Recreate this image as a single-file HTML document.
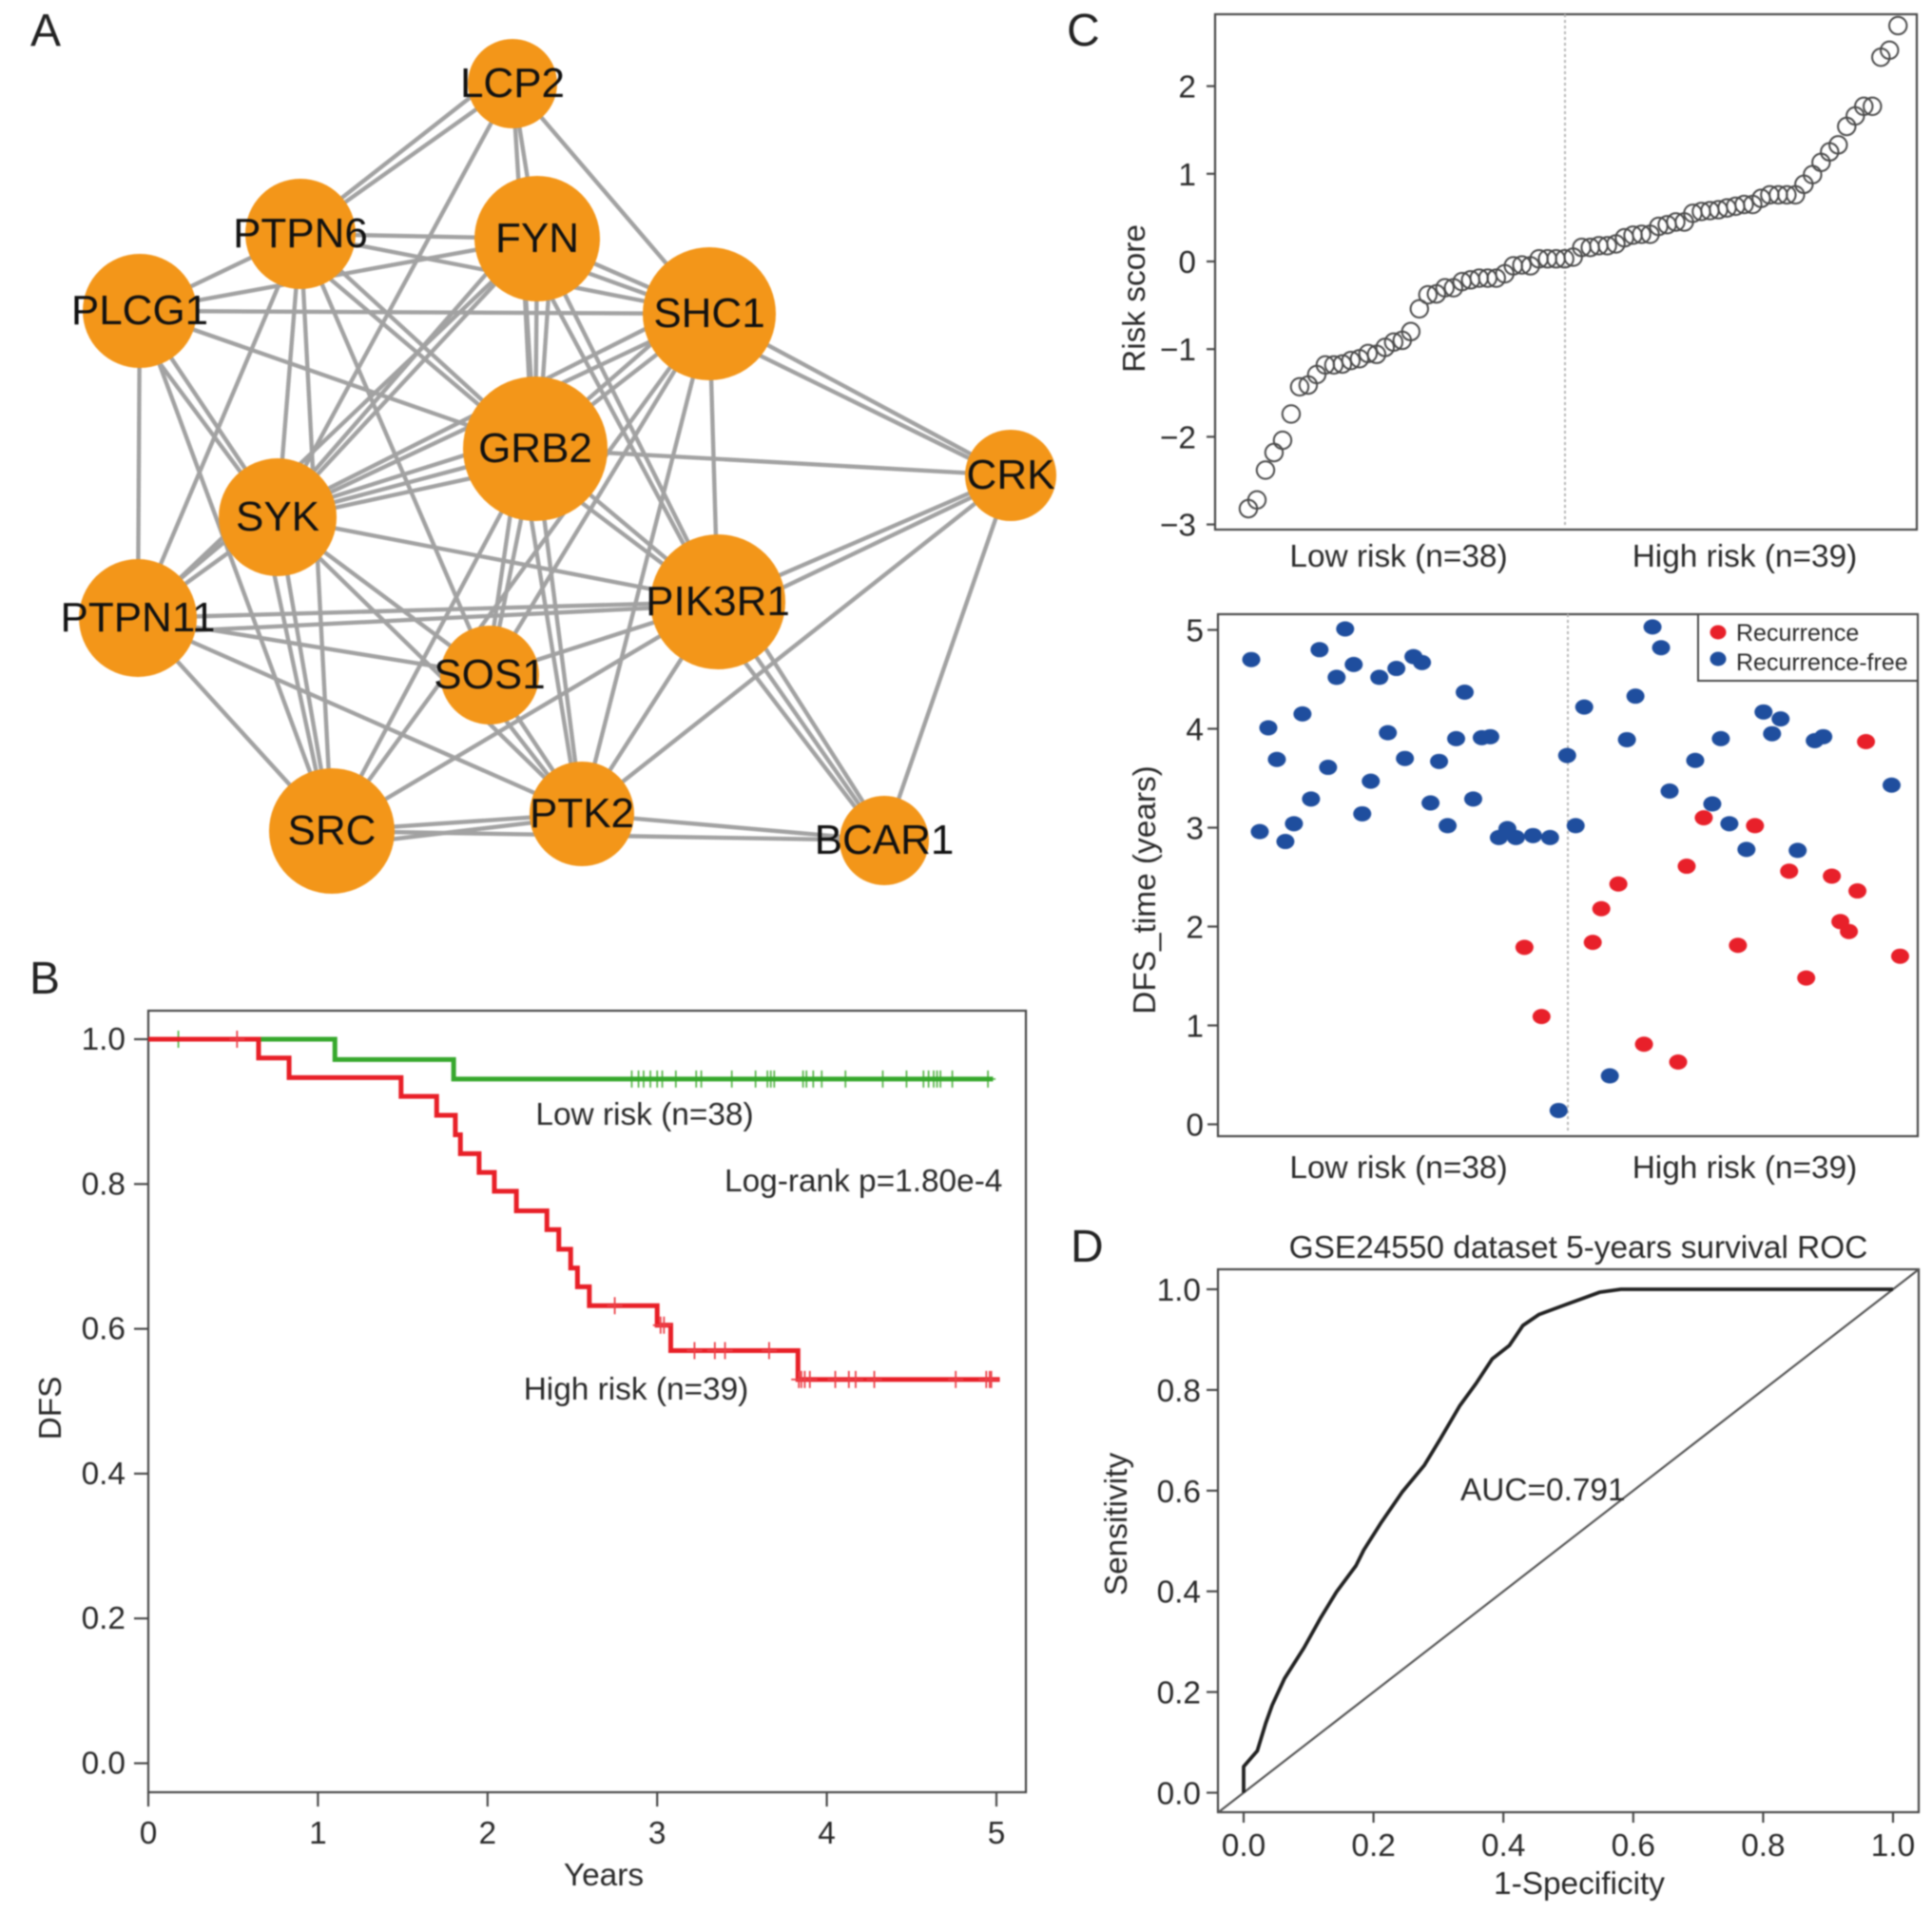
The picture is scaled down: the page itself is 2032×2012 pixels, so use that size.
<!DOCTYPE html>
<html lang="en">
<head>
<meta charset="utf-8">
<title>Four panel risk model figure</title>
<style>
html,body{margin:0;padding:0;background:#fff;}
body{width:2032px;height:2012px;overflow:hidden;}
svg{display:block;filter:blur(0.75px);}
text{font-family:"Liberation Sans",sans-serif;font-size:33.4px;fill:#2a2a2a;}
.panel{font-size:48px;fill:#222;}
.frame{fill:none;stroke:#484848;stroke-width:2.2;}
.node-label{font-size:44px;fill:#111;text-anchor:middle;}
.mid{text-anchor:middle;}
.legend-text{font-size:25px;}
</style>
</head>
<body>
<svg id="fig" xmlns="http://www.w3.org/2000/svg" width="2032" height="2012" viewBox="0 0 2032 2012">
  <rect x="0" y="0" width="2032" height="2012" fill="#fff"/>

  <text class="panel" x="32" y="48">A</text>
  <text class="panel" x="31" y="1045">B</text>
  <text class="panel" x="1122" y="48">C</text>
  <text class="panel" x="1126" y="1327">D</text>

  <g id="network">
    <g id="net-edges"></g>
    <g id="net-nodes"></g>
  </g>

  <g id="panel-b">
    <rect class="frame" x="156" y="1063" width="923" height="822"/>
    <g id="b-axes"></g>
    <g id="b-marks"></g>
    <text class="mid" x="678" y="1183">Low risk (n=38)</text>
    <text x="762" y="1253">Log-rank p=1.80e-4</text>
    <text class="mid" x="669" y="1472">High risk (n=39)</text>
    <text class="mid" transform="translate(52,1481) rotate(-90)" y="12">DFS</text>
    <text class="mid" x="635" y="1983">Years</text>
  </g>

  <g id="panel-c1">
    <rect class="frame" x="1278" y="15" width="738" height="542"/>
    <g id="c1-axes"></g>
    <g id="c1-marks"></g>
    <text class="mid" x="1471" y="596">Low risk (n=38)</text>
    <text class="mid" x="1835" y="596">High risk (n=39)</text>
    <text class="mid" transform="translate(1192,314) rotate(-90)" y="12">Risk score</text>
  </g>

  <g id="panel-c2">
    <rect class="frame" x="1281" y="646" width="736" height="549"/>
    <g id="c2-axes"></g>
    <g id="c2-marks"></g>
    <g>
      <rect x="1786" y="646" width="231" height="70" fill="#fff" stroke="#484848" stroke-width="2"/>
      <ellipse cx="1807" cy="665" rx="8.5" ry="7.5" fill="#e8202a"/>
      <text class="legend-text" x="1826" y="674">Recurrence</text>
      <ellipse cx="1807" cy="693" rx="8.5" ry="7.5" fill="#1f4e9e"/>
      <text class="legend-text" x="1826" y="705">Recurrence-free</text>
    </g>
    <text class="mid" x="1471" y="1239">Low risk (n=38)</text>
    <text class="mid" x="1835" y="1239">High risk (n=39)</text>
    <text class="mid" transform="translate(1203,936) rotate(-90)" y="12">DFS_time (years)</text>
  </g>

  <g id="panel-d">
    <text class="mid" x="1660" y="1323">GSE24550 dataset 5-years survival ROC</text>
    <rect class="frame" x="1281" y="1335" width="737" height="571"/>
    <g id="d-axes"></g>
    <g id="d-marks"></g>
    <text x="1536" y="1578">AUC=0.791</text>
    <text class="mid" transform="translate(1173,1603) rotate(-90)" y="12">Sensitivity</text>
    <text class="mid" x="1661" y="1992">1-Specificity</text>
  </g>
</svg>

<script>
// ---------- Panel A network ----------
const nodeNames = ["LCP2","PTPN6","FYN","PLCG1","SHC1","GRB2","CRK","SYK","PTPN11","PIK3R1","SOS1","SRC","PTK2","BCAR1"];
const nodeCx = [539,316,565,147,746,563,1063,292,145,755,515,349,612,930];
const nodeCy = [88,246,251,327,330,472,500,544,650,633,710,874,856,884];
const nodeSize = [47,58,66,60,70,76,48,62,62,71,52,66,55,47];
const edgeList = [
 "LCP2-PTPN6","LCP2-PTPN6","LCP2-FYN","LCP2-GRB2","LCP2-SHC1","LCP2-SYK",
 "PTPN6-PLCG1","PTPN6-FYN","PTPN6-SHC1","PTPN6-GRB2","PTPN6-GRB2","PTPN6-SYK","PTPN6-PTPN11","PTPN6-SOS1","PTPN6-SRC",
 "PLCG1-FYN","PLCG1-SHC1","PLCG1-GRB2","PLCG1-SYK","PLCG1-SYK","PLCG1-PTPN11","PLCG1-SRC",
 "FYN-SHC1","FYN-SHC1","FYN-GRB2","FYN-GRB2","FYN-GRB2","FYN-SYK","FYN-SYK","FYN-PTPN11","FYN-PIK3R1","FYN-PIK3R1",
 "SHC1-GRB2","SHC1-GRB2","SHC1-SYK","SHC1-SYK","SHC1-PIK3R1","SHC1-CRK","SHC1-CRK","SHC1-SOS1","SHC1-PTK2","SHC1-SRC",
 "GRB2-CRK","GRB2-SYK","GRB2-SYK","GRB2-SYK","GRB2-PIK3R1","GRB2-PIK3R1","GRB2-SOS1","GRB2-SOS1","GRB2-SRC","GRB2-PTK2","GRB2-PTK2",
 "SYK-PTPN11","SYK-PTPN11","SYK-PIK3R1","SYK-SOS1","SYK-PTK2","SYK-SRC","SYK-SRC",
 "PTPN11-PIK3R1","PTPN11-PIK3R1","PTPN11-SOS1","PTPN11-PTK2","PTPN11-SRC",
 "PIK3R1-CRK","PIK3R1-CRK","PIK3R1-SOS1","PIK3R1-SRC","PIK3R1-PTK2","PIK3R1-BCAR1","PIK3R1-BCAR1","PIK3R1-BCAR1",
 "SOS1-PTK2","SOS1-PTK2","SRC-PTK2","SRC-PTK2","SRC-BCAR1","PTK2-BCAR1","PTK2-CRK","CRK-BCAR1"
];

// ---------- Panel B survival ----------
const bXTicks = [0,1,2,3,4,5];
const bYTicks = [0,0.2,0.4,0.6,0.8,1];
const bYLabels = ["0.0","0.2","0.4","0.6","0.8","1.0"];
const lowTimes = [0,1.10,1.80,4.98];
const lowSurv = [1,0.972,0.945,0.945];
const highTimes = [0,0.65,0.83,1.49,1.70,1.81,1.84,1.95,2.04,2.17,2.35,2.42,2.49,2.53,2.60,3.00,3.08,3.83,5.02];
const highSurv = [1,0.974,0.947,0.921,0.895,0.868,0.842,0.816,0.790,0.763,0.737,0.710,0.684,0.658,0.632,0.605,0.570,0.530,0.530];
const lowCensor = [0.177,2.85,2.89,2.92,2.96,3.0,3.03,3.11,3.23,3.26,3.44,3.58,3.65,3.67,3.69,3.86,3.88,3.92,3.97,4.11,4.33,4.47,4.57,4.6,4.63,4.65,4.67,4.74,4.95];
const highCensor = [0.523,2.75,3.02,3.04,3.22,3.34,3.40,3.66,3.835,3.85,3.87,3.90,4.05,4.13,4.17,4.28,4.76,4.94,4.96,4.97];

// ---------- Panel C risk score ----------
const riskTicks = [-3,-2,-1,0,1,2];
const riskLabels = ["\u22123","\u22122","\u22121","0","1","2"];
const riskScores = [-2.82,-2.72,-2.38,-2.18,-2.04,-1.74,-1.43,-1.41,-1.29,-1.18,
 -1.18,-1.17,-1.13,-1.11,-1.05,-1.06,-0.98,-0.92,-0.90,-0.80,
 -0.54,-0.38,-0.37,-0.30,-0.30,-0.23,-0.21,-0.19,-0.19,-0.19,
 -0.14,-0.05,-0.04,-0.05,0.03,0.03,0.03,0.03,
 0.05,0.16,0.16,0.18,0.18,0.20,0.27,0.30,0.31,0.31,
 0.40,0.42,0.45,0.45,0.55,0.57,0.58,0.59,0.61,0.63,
 0.65,0.65,0.72,0.76,0.76,0.76,0.76,0.88,0.99,1.13,
 1.25,1.33,1.54,1.66,1.77,1.77,2.33,2.41,2.69];

// ---------- Panel C DFS scatter ----------
const dfsTicks = [0,1,2,3,4,5];
const dfsTimes = [4.70,2.96,4.01,3.69,2.86,3.04,4.15,3.29,4.80,3.61,
 4.52,5.01,4.65,3.14,3.47,4.52,3.96,4.61,3.70,4.73,
 4.67,3.25,3.67,3.02,3.90,4.37,3.29,3.91,3.92,2.90,
 2.99,2.90,1.79,2.92,1.09,2.90,0.14,3.73,3.02,4.22,
 1.84,2.18,0.49,2.43,3.89,4.33,0.81,5.03,4.82,3.37,
 0.63,2.61,3.68,3.10,3.24,3.90,3.04,1.81,2.78,3.02,
 4.17,3.95,4.10,2.56,2.77,1.48,3.88,3.92,2.51,2.05,
 1.95,2.36,3.87,null,null,3.43,1.70];
const dfsRecurred = [0,0,0,0,0,0,0,0,0,0,
 0,0,0,0,0,0,0,0,0,0,
 0,0,0,0,0,0,0,0,0,0,
 0,0,1,0,1,0,0,0,0,0,
 1,1,0,1,0,0,1,0,0,0,
 1,1,0,1,0,0,0,1,0,1,
 0,0,0,1,0,1,0,0,1,1,
 1,1,1,0,0,0,1];

// ---------- Panel D ROC ----------
const rocTicks = [0,0.2,0.4,0.6,0.8,1];
const rocLabels = ["0.0","0.2","0.4","0.6","0.8","1.0"];
const rocFpr = [0,0,0.021,0.034,0.044,0.063,0.093,0.118,0.143,0.173,0.185,0.211,0.244,0.278,0.303,0.333,0.358,0.383,0.409,0.43,0.455,0.497,0.548,0.581,1];
const rocTpr = [0,0.052,0.083,0.138,0.174,0.227,0.288,0.346,0.399,0.451,0.482,0.535,0.597,0.65,0.703,0.769,0.813,0.862,0.888,0.928,0.95,0.97,0.994,1,1];

const NS = "http://www.w3.org/2000/svg";
function mk(tag, attrs, parent, txt){
  const e = document.createElementNS(NS, tag);
  for(const k in attrs) e.setAttribute(k, attrs[k]);
  if(txt !== undefined) e.textContent = txt;
  parent.appendChild(e);
  return e;
}
const $ = id => document.getElementById(id);
const AXIS = "#484848";

function yAxis(parent, ticks, labels, yFn, axisX, len, labelX, labelDy){
  ticks.forEach((v,i)=>{
    const t = mk("line",{x1:axisX-len,x2:axisX,y1:yFn(v),y2:yFn(v),stroke:AXIS,"stroke-width":2.2},parent);
    
    
    const l = mk("text",{x:labelX,y:yFn(v)+labelDy,"text-anchor":"end"},parent,labels[i]);
    
    
  });
}
function xAxis(parent, ticks, labels, xFn, axisY, len, labelY){
  ticks.forEach((v,i)=>{
    const t = mk("line",{x1:xFn(v),x2:xFn(v),y1:axisY,y2:axisY+len,stroke:AXIS,"stroke-width":2.2},parent);
    
    
    const l = mk("text",{x:xFn(v),y:labelY+12,"text-anchor":"middle"},parent,labels[i]);
    
    
  });
}

// ---- A ----
(function(){
  const seen = {};
  const edgesG = $("net-edges");
  edgeList.forEach(pair=>{
    const [a,b] = pair.split("-");
    const i = nodeNames.indexOf(a), j = nodeNames.indexOf(b);
    seen[pair] = (seen[pair]||0)+1;
    const k = seen[pair]-1;
    const sign = k===0?0:(k===1?1:-1);
    const dx = nodeCx[j]-nodeCx[i], dy = nodeCy[j]-nodeCy[i], L = Math.hypot(dx,dy);
    const nx = -dy/L, ny = dx/L;
    const e = mk("line",{
      x1:nodeCx[i]+nx*sign*16, y1:nodeCy[i]+ny*sign*16,
      x2:nodeCx[j]+nx*sign*3, y2:nodeCy[j]+ny*sign*3,
      stroke:"#a2a2a2","stroke-width":4.4},edgesG);
    
    
  });
  const nodesG = $("net-nodes");
  nodeNames.forEach((n,i)=>{
    const c = mk("circle",{cx:nodeCx[i],cy:nodeCy[i],r:nodeSize[i],fill:"#f39619"},nodesG);
    
    
  });
  nodeNames.forEach((n,i)=>{
    const t = mk("text",{x:nodeCx[i],y:nodeCy[i]+14,"class":"node-label"},nodesG,n);
    
    
  });
})();

// ---- B ----
(function(){
  const x = t => 156 + t*178.4;
  const y = s => 1854.5 - s*761.5;
  yAxis($("b-axes"), bYTicks, bYLabels, y, 156, 15, 132, 11);
  xAxis($("b-axes"), bXTicks, bXTicks.map(String), x, 1885, 15, 1927);
  function stepPath(ts, ss){
    let d = "M"+x(ts[0])+" "+y(ss[0]);
    for(let i=1;i<ts.length;i++){
      d += " L"+x(ts[i])+" "+y(ss[i-1])+" L"+x(ts[i])+" "+y(ss[i]);
    }
    return d;
  }
  function survAt(ts, ss, t){
    let s = ss[0];
    for(let i=0;i<ts.length;i++){ if(ts[i]<=t) s = ss[i]; }
    return s;
  }
  const g = $("b-marks");
  function censors(list, ts, ss, color, name){
    list.forEach(t=>{
      const s = survAt(ts, ss, t);
      const c = mk("path",{d:"M"+x(t)+" "+(y(s)-9)+" V"+(y(s)+9)+" M"+(x(t)-8)+" "+y(s)+" H"+(x(t)+8),stroke:color,"stroke-width":1.8,fill:"none"},g);
      
      
    });
  }
  censors(lowCensor, lowTimes, lowSurv, "#5cb84e", "low-risk-censor");
  const lowLine = mk("path",{d:stepPath(lowTimes,lowSurv),fill:"none",stroke:"#36a82c","stroke-width":5},g);
  
  
  const highLine = mk("path",{d:stepPath(highTimes,highSurv),fill:"none",stroke:"#e81f27","stroke-width":5},g);
  
  
  censors(highCensor, highTimes, highSurv, "#ec4048", "high-risk-censor");
})();

// ---- C top ----
(function(){
  const x = i => 1313 + i*8.99;
  const y = v => 275 - v*92.2;
  yAxis($("c1-axes"), riskTicks, riskLabels, y, 1278, 9, 1258, 12);
  const g = $("c1-marks");
  const v = mk("line",{x1:1646,x2:1646,y1:15,y2:553,stroke:"#b5b5b5","stroke-width":2,"stroke-dasharray":"3 3"},g);
  
  
  riskScores.forEach((s,i)=>{
    const c = mk("circle",{cx:x(i),cy:y(s),r:9.2,fill:"none",stroke:"#4a4a4a","stroke-width":2},g);
    
    
  });
})();

// ---- C bottom ----
(function(){
  const x = i => 1316 + i*8.98;
  const y = v => 1182.5 - v*104;
  yAxis($("c2-axes"), dfsTicks, dfsTicks.map(String), y, 1281, 11, 1266, 12);
  const g = $("c2-marks");
  const v = mk("line",{x1:1649,x2:1649,y1:646,y2:1190,stroke:"#b5b5b5","stroke-width":2,"stroke-dasharray":"3 3"},g);
  
  
  dfsTimes.forEach((t,i)=>{
    if(t===null) return;
    const c = mk("ellipse",{cx:x(i),cy:y(t),rx:9.5,ry:8,fill:dfsRecurred[i]?"#e8202a":"#1f4e9e"},g);
    
    
  });
})();

// ---- D ----
(function(){
  const x = f => 1308 + f*683;
  const y = s => 1885.5 - s*529.5;
  yAxis($("d-axes"), rocTicks, rocLabels, y, 1281, 12, 1263, 12);
  xAxis($("d-axes"), rocTicks, rocLabels, x, 1906, 11, 1940);
  const g = $("d-marks");
  const loD = -0.0395, hiD = 1.04;
  const diag = mk("line",{x1:x(loD),y1:y(loD),x2:x(hiD),y2:y(hiD),stroke:"#555","stroke-width":2.2},g);
  
  
  const pts = rocFpr.map((f,i)=>x(f)+","+y(rocTpr[i])).join(" ");
  const line = mk("polyline",{points:pts,fill:"none",stroke:"#222","stroke-width":3.8,"stroke-linejoin":"round"},g);
  
  
})();
</script>
</body>
</html>
